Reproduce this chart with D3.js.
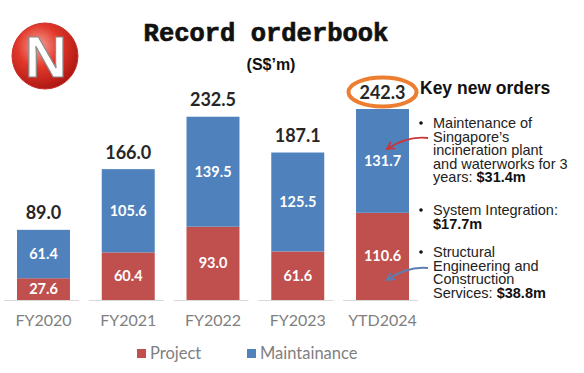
<!DOCTYPE html>
<html><head><meta charset="utf-8">
<script src="https://cdn.jsdelivr.net/npm/d3@7"></script>
<style>body{margin:0;background:#fff}svg{display:block}</style>
</head><body>
<svg id="c" width="584" height="373"></svg>
<script>
const categories = ["FY2020","FY2021","FY2022","FY2023","YTD2024"];
const project = [27.6, 60.4, 93.0, 61.6, 110.6];
const maintenance = [61.4, 105.6, 139.5, 125.5, 131.7];
const totals = [89.0, 166.0, 232.5, 187.1, 242.3];
const seriesNames = ["Project","Maintainance"];
const colors = ["#c0504d","#4f81bd"];
const bullets = [
  {lines:["Maintenance of","Singapore\u2019s","incineration plant","and waterworks for 3"], last:["years: ","$31.4m"]},
  {lines:["System Integration:"], last:["","$17.7m"]},
  {lines:["Structural","Engineering and","Construction"], last:["Services: ","$38.8m"]}
];

const svg = d3.select("#c");
const x = d3.scaleBand().domain(categories).range([17, 409]).paddingInner(0.375).paddingOuter(0);
const y = d3.scaleLinear().domain([0, 242.3]).range([300, 109]);
const gf = "'Lato','Open Sans',sans-serif";

// logo
const defs = svg.append("defs");
const rg = defs.append("radialGradient").attr("id","lg").attr("cx","40%").attr("cy","35%").attr("r","70%");
rg.append("stop").attr("offset","0%").attr("stop-color","#f5a39a");
rg.append("stop").attr("offset","45%").attr("stop-color","#e2392b");
rg.append("stop").attr("offset","100%").attr("stop-color","#a8140f");
svg.append("circle").attr("cx",45).attr("cy",56).attr("r",33).attr("fill","url(#lg)").attr("stroke","#c9302a").attr("stroke-width",1);
svg.append("text").attr("x",46).attr("y",77).attr("text-anchor","middle")
  .attr("font-family","'Liberation Sans',Arial,sans-serif").attr("font-weight","bold").attr("font-size",58)
  .attr("fill","#fff").attr("stroke","#8a8a8a").attr("stroke-width",1.2).text("N");

// title
svg.append("text").attr("x",266).attr("y",41).attr("text-anchor","middle")
  .attr("font-family","'Liberation Mono','DejaVu Sans Mono',monospace").attr("font-weight","bold")
  .attr("font-size",25.5).attr("fill","#111").attr("stroke","#111").attr("stroke-width",0.7).text("Record orderbook");
svg.append("text").attr("x",271).attr("y",70).attr("text-anchor","middle")
  .attr("font-family","'Liberation Sans',Arial,sans-serif").attr("font-weight","bold")
  .attr("font-size",16).attr("fill","#111").text("(S$\u2019m)");

// baselines
svg.append("g").selectAll("line").data(categories).join("line")
  .attr("x1",d=>x(d)-13).attr("x2",d=>x(d)+x.bandwidth()+9)
  .attr("y1",y(0)+0.5).attr("y2",y(0)+0.5).attr("stroke","#d9d9d9").attr("stroke-width",1);

// bars
const stackData = categories.map((c,i)=>({cat:c, Project:project[i], Maintainance:maintenance[i]}));
const stack = d3.stack().keys(seriesNames)(stackData);
svg.append("g").selectAll("g").data(stack).join("g").attr("fill",(d,i)=>colors[i])
  .selectAll("rect").data(d=>d).join("rect")
  .attr("x",d=>x(d.data.cat)).attr("width",x.bandwidth())
  .attr("y",d=>y(d[1])).attr("height",d=>y(d[0])-y(d[1]));

// inner labels
svg.append("g").selectAll("g").data(stack).join("g")
  .selectAll("text").data(d=>d).join("text")
  .attr("x",d=>x(d.data.cat)+x.bandwidth()/2)
  .attr("y",d=>(y(d[0])+y(d[1]))/2+5)
  .attr("text-anchor","middle").attr("fill","#fff").attr("font-weight","bold")
  .attr("font-family",gf).attr("font-size",14.5)
  .text(d=>(d[1]-d[0]).toFixed(1));

// totals
svg.append("g").selectAll("text").data(categories).join("text")
  .attr("x",d=>x(d)+x.bandwidth()/2).attr("y",(d,i)=>y(totals[i])-10.5)
  .attr("text-anchor","middle").attr("fill","#262626").attr("font-weight","bold")
  .attr("font-family",gf).attr("font-size",18)
  .text((d,i)=>totals[i].toFixed(1));

// ellipse around last total
const lastCat = categories[categories.length-1];
svg.append("ellipse").attr("cx",x(lastCat)+x.bandwidth()/2).attr("cy",y(totals[4])-17)
  .attr("rx",34).attr("ry",14.5).attr("fill","none").attr("stroke","#ed7d31").attr("stroke-width",4);

// category labels
svg.append("g").selectAll("text").data(categories).join("text")
  .attr("x",d=>x(d)+x.bandwidth()/2).attr("y",326)
  .attr("text-anchor","middle").attr("fill","#7f7f7f")
  .attr("font-family",gf).attr("font-size",16).text(d=>d);

// legend
const leg = svg.append("g");
[[137,"Project"],[247,"Maintainance"]].forEach((l,i)=>{
  leg.append("rect").attr("x",l[0]).attr("y",349).attr("width",9).attr("height",9).attr("fill",colors[i]);
  leg.append("text").attr("x",l[0]+13).attr("y",359).attr("fill","#7f7f7f")
    .attr("font-family",gf).attr("font-size",16.5).text(l[1]);
});

// key new orders
const sf = "'Liberation Sans',Arial,sans-serif";
svg.append("text").attr("x",420).attr("y",94).attr("font-family",sf).attr("font-weight","bold")
  .attr("font-size",17.5).attr("fill","#111").text("Key new orders");
const starts = [128, 215, 257];
const lh = 13.5;
bullets.forEach((b,bi)=>{
  svg.append("circle").attr("cx",421).attr("cy",starts[bi]-5).attr("r",1.8).attr("fill","#111");
  const g = svg.append("g").attr("font-family",sf).attr("font-size",14.5).attr("fill","#222");
  b.lines.forEach((ln,li)=>{
    g.append("text").attr("x",433).attr("y",starts[bi]+li*lh).text(ln);
  });
  const t = g.append("text").attr("x",433).attr("y",starts[bi]+b.lines.length*lh);
  if (b.last[0]) t.append("tspan").text(b.last[0]);
  t.append("tspan").attr("font-weight","bold").attr("fill","#111").text(b.last[1]);
});

// arrows
function arrow(x1,y1,x2,y2,col,bend){
  const mx=(x1+x2)/2, my=(y1+y2)/2+bend;
  svg.append("path").attr("d",`M${x1},${y1} Q${mx},${my-10} ${x2},${y2}`)
    .attr("fill","none").attr("stroke",col).attr("stroke-width",1.8);
  const ang = Math.atan2(y2-(my-10), x2-mx);
  const L=8, a=0.5;
  const p1=[x2-L*Math.cos(ang-a), y2-L*Math.sin(ang-a)];
  const p2=[x2-L*Math.cos(ang+a), y2-L*Math.sin(ang+a)];
  svg.append("path").attr("d",`M${p1[0]},${p1[1]} L${x2},${y2} L${p2[0]},${p2[1]}`)
    .attr("fill","none").attr("stroke",col).attr("stroke-width",1.8);
}
arrow(428,138,387,149,"#c9373a",2);
arrow(428,268,387,280,"#5b7fb5",2);
</script>
</body></html>
